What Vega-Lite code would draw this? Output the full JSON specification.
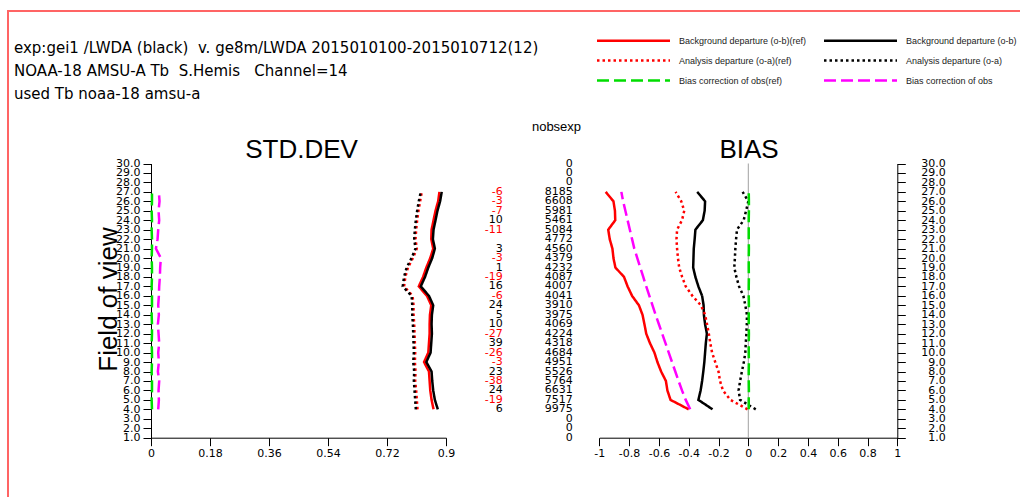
{
  "$schema": "https://vega.github.io/schema/vega-lite/v6.json",
  "width": 1014,
  "height": 490,
  "autosize": {"type": "none"},
  "padding": {"left": 8, "top": 11, "right": 0, "bottom": 0},
  "background": "white",
  "config": {
    "view": {"stroke": "#ff6464", "strokeWidth": 2},
    "axis": {"labelFont": "DejaVu Sans", "labelFontSize": 11, "labelColor": "#000", "domainColor": "#000", "tickColor": "#000", "domainWidth": 1, "tickWidth": 1, "grid": false, "titleFont": "Liberation Sans", "titleFontWeight": "normal", "titleColor": "#000", "labelOverlap": false, "labelFlush": false, "labelBound": false},
    "text": {"font": "DejaVu Sans", "fontSize": 11}
  },
  "title": {
    "text": ["exp:gei1 /LWDA (black)\u00a0 v. ge8m/LWDA 2015010100-2015010712(12)", "NOAA-18 AMSU-A Tb\u00a0 S.Hemis\u00a0\u00a0 Channel=14", "used Tb noaa-18 amsu-a"],
    "anchor": "start", "frame": "group", "orient": "top", "offset": 0, "dx": 6, "dy": 91, "baseline": "top",
    "font": "DejaVu Sans", "fontSize": 15, "fontWeight": "normal", "lineHeight": 23, "color": "#000"
  },
  "datasets": {
    "prof": [
      {"f":27,"s":"Background departure (o-b)(ref)","std":0.880,"bias":-0.957},
      {"f":26,"s":"Background departure (o-b)(ref)","std":0.876,"bias":-0.905},
      {"f":25,"s":"Background departure (o-b)(ref)","std":0.868,"bias":-0.895},
      {"f":24,"s":"Background departure (o-b)(ref)","std":0.862,"bias":-0.893},
      {"f":23,"s":"Background departure (o-b)(ref)","std":0.856,"bias":-0.940},
      {"f":22,"s":"Background departure (o-b)(ref)","std":0.855,"bias":-0.930},
      {"f":21,"s":"Background departure (o-b)(ref)","std":0.861,"bias":-0.912},
      {"f":20,"s":"Background departure (o-b)(ref)","std":0.852,"bias":-0.905},
      {"f":19,"s":"Background departure (o-b)(ref)","std":0.840,"bias":-0.892},
      {"f":18,"s":"Background departure (o-b)(ref)","std":0.830,"bias":-0.834},
      {"f":17,"s":"Background departure (o-b)(ref)","std":0.817,"bias":-0.810},
      {"f":16,"s":"Background departure (o-b)(ref)","std":0.842,"bias":-0.780},
      {"f":15,"s":"Background departure (o-b)(ref)","std":0.855,"bias":-0.734},
      {"f":14,"s":"Background departure (o-b)(ref)","std":0.851,"bias":-0.710},
      {"f":13,"s":"Background departure (o-b)(ref)","std":0.850,"bias":-0.697},
      {"f":12,"s":"Background departure (o-b)(ref)","std":0.850,"bias":-0.685},
      {"f":11,"s":"Background departure (o-b)(ref)","std":0.848,"bias":-0.660},
      {"f":10,"s":"Background departure (o-b)(ref)","std":0.846,"bias":-0.630},
      {"f":9,"s":"Background departure (o-b)(ref)","std":0.833,"bias":-0.610},
      {"f":8,"s":"Background departure (o-b)(ref)","std":0.848,"bias":-0.585},
      {"f":7,"s":"Background departure (o-b)(ref)","std":0.850,"bias":-0.553},
      {"f":6,"s":"Background departure (o-b)(ref)","std":0.852,"bias":-0.543},
      {"f":5,"s":"Background departure (o-b)(ref)","std":0.856,"bias":-0.522},
      {"f":4,"s":"Background departure (o-b)(ref)","std":0.862,"bias":-0.400},
      {"f":27,"s":"Background departure (o-b)","std":0.887,"bias":-0.343},
      {"f":26,"s":"Background departure (o-b)","std":0.882,"bias":-0.290},
      {"f":25,"s":"Background departure (o-b)","std":0.874,"bias":-0.293},
      {"f":24,"s":"Background departure (o-b)","std":0.868,"bias":-0.305},
      {"f":23,"s":"Background departure (o-b)","std":0.862,"bias":-0.355},
      {"f":22,"s":"Background departure (o-b)","std":0.860,"bias":-0.360},
      {"f":21,"s":"Background departure (o-b)","std":0.866,"bias":-0.366},
      {"f":20,"s":"Background departure (o-b)","std":0.858,"bias":-0.368},
      {"f":19,"s":"Background departure (o-b)","std":0.846,"bias":-0.370},
      {"f":18,"s":"Background departure (o-b)","std":0.836,"bias":-0.355},
      {"f":17,"s":"Background departure (o-b)","std":0.823,"bias":-0.335},
      {"f":16,"s":"Background departure (o-b)","std":0.848,"bias":-0.310},
      {"f":15,"s":"Background departure (o-b)","std":0.861,"bias":-0.300},
      {"f":14,"s":"Background departure (o-b)","std":0.857,"bias":-0.298},
      {"f":13,"s":"Background departure (o-b)","std":0.856,"bias":-0.290},
      {"f":12,"s":"Background departure (o-b)","std":0.857,"bias":-0.278},
      {"f":11,"s":"Background departure (o-b)","std":0.855,"bias":-0.285},
      {"f":10,"s":"Background departure (o-b)","std":0.853,"bias":-0.290},
      {"f":9,"s":"Background departure (o-b)","std":0.840,"bias":-0.295},
      {"f":8,"s":"Background departure (o-b)","std":0.856,"bias":-0.302},
      {"f":7,"s":"Background departure (o-b)","std":0.858,"bias":-0.310},
      {"f":6,"s":"Background departure (o-b)","std":0.861,"bias":-0.320},
      {"f":5,"s":"Background departure (o-b)","std":0.866,"bias":-0.335},
      {"f":4,"s":"Background departure (o-b)","std":0.875,"bias":-0.240},
      {"f":27,"s":"Analysis departure (o-a)(ref)","std":0.826,"bias":-0.488},
      {"f":26,"s":"Analysis departure (o-a)(ref)","std":0.821,"bias":-0.450},
      {"f":25,"s":"Analysis departure (o-a)(ref)","std":0.816,"bias":-0.430},
      {"f":24,"s":"Analysis departure (o-a)(ref)","std":0.812,"bias":-0.445},
      {"f":23,"s":"Analysis departure (o-a)(ref)","std":0.809,"bias":-0.478},
      {"f":22,"s":"Analysis departure (o-a)(ref)","std":0.807,"bias":-0.482},
      {"f":21,"s":"Analysis departure (o-a)(ref)","std":0.811,"bias":-0.478},
      {"f":20,"s":"Analysis departure (o-a)(ref)","std":0.799,"bias":-0.472},
      {"f":19,"s":"Analysis departure (o-a)(ref)","std":0.784,"bias":-0.464},
      {"f":18,"s":"Analysis departure (o-a)(ref)","std":0.776,"bias":-0.444},
      {"f":17,"s":"Analysis departure (o-a)(ref)","std":0.772,"bias":-0.420},
      {"f":16,"s":"Analysis departure (o-a)(ref)","std":0.798,"bias":-0.375},
      {"f":15,"s":"Analysis departure (o-a)(ref)","std":0.801,"bias":-0.318},
      {"f":14,"s":"Analysis departure (o-a)(ref)","std":0.801,"bias":-0.290},
      {"f":13,"s":"Analysis departure (o-a)(ref)","std":0.803,"bias":-0.277},
      {"f":12,"s":"Analysis departure (o-a)(ref)","std":0.804,"bias":-0.265},
      {"f":11,"s":"Analysis departure (o-a)(ref)","std":0.805,"bias":-0.255},
      {"f":10,"s":"Analysis departure (o-a)(ref)","std":0.806,"bias":-0.243},
      {"f":9,"s":"Analysis departure (o-a)(ref)","std":0.805,"bias":-0.222},
      {"f":8,"s":"Analysis departure (o-a)(ref)","std":0.807,"bias":-0.200},
      {"f":7,"s":"Analysis departure (o-a)(ref)","std":0.806,"bias":-0.190},
      {"f":6,"s":"Analysis departure (o-a)(ref)","std":0.809,"bias":-0.170},
      {"f":5,"s":"Analysis departure (o-a)(ref)","std":0.811,"bias":-0.120},
      {"f":4,"s":"Analysis departure (o-a)(ref)","std":0.813,"bias":-0.005},
      {"f":27,"s":"Analysis departure (o-a)","std":0.823,"bias":-0.038},
      {"f":26,"s":"Analysis departure (o-a)","std":0.817,"bias":0.000},
      {"f":25,"s":"Analysis departure (o-a)","std":0.812,"bias":-0.015},
      {"f":24,"s":"Analysis departure (o-a)","std":0.808,"bias":-0.031},
      {"f":23,"s":"Analysis departure (o-a)","std":0.805,"bias":-0.076},
      {"f":22,"s":"Analysis departure (o-a)","std":0.803,"bias":-0.082},
      {"f":21,"s":"Analysis departure (o-a)","std":0.807,"bias":-0.087},
      {"f":20,"s":"Analysis departure (o-a)","std":0.795,"bias":-0.090},
      {"f":19,"s":"Analysis departure (o-a)","std":0.780,"bias":-0.094},
      {"f":18,"s":"Analysis departure (o-a)","std":0.772,"bias":-0.080},
      {"f":17,"s":"Analysis departure (o-a)","std":0.768,"bias":-0.062},
      {"f":16,"s":"Analysis departure (o-a)","std":0.795,"bias":-0.033},
      {"f":15,"s":"Analysis departure (o-a)","std":0.797,"bias":-0.020},
      {"f":14,"s":"Analysis departure (o-a)","std":0.797,"bias":-0.009},
      {"f":13,"s":"Analysis departure (o-a)","std":0.799,"bias":-0.010},
      {"f":12,"s":"Analysis departure (o-a)","std":0.800,"bias":-0.013},
      {"f":11,"s":"Analysis departure (o-a)","std":0.801,"bias":-0.017},
      {"f":10,"s":"Analysis departure (o-a)","std":0.802,"bias":-0.020},
      {"f":9,"s":"Analysis departure (o-a)","std":0.800,"bias":-0.030},
      {"f":8,"s":"Analysis departure (o-a)","std":0.803,"bias":-0.043},
      {"f":7,"s":"Analysis departure (o-a)","std":0.802,"bias":-0.055},
      {"f":6,"s":"Analysis departure (o-a)","std":0.804,"bias":-0.065},
      {"f":5,"s":"Analysis departure (o-a)","std":0.806,"bias":-0.055},
      {"f":4,"s":"Analysis departure (o-a)","std":0.808,"bias":0.050},
      {"f":27,"s":"Bias correction of obs(ref)","std":0.003,"bias":0.003},
      {"f":26,"s":"Bias correction of obs(ref)","std":0.003,"bias":0.004},
      {"f":25,"s":"Bias correction of obs(ref)","std":0.002,"bias":0.004},
      {"f":24,"s":"Bias correction of obs(ref)","std":0.003,"bias":0.003},
      {"f":23,"s":"Bias correction of obs(ref)","std":0.002,"bias":0.003},
      {"f":22,"s":"Bias correction of obs(ref)","std":0.003,"bias":0.003},
      {"f":21,"s":"Bias correction of obs(ref)","std":0.003,"bias":0.004},
      {"f":20,"s":"Bias correction of obs(ref)","std":0.002,"bias":0.003},
      {"f":19,"s":"Bias correction of obs(ref)","std":0.003,"bias":0.003},
      {"f":18,"s":"Bias correction of obs(ref)","std":0.003,"bias":0.004},
      {"f":17,"s":"Bias correction of obs(ref)","std":0.002,"bias":0.003},
      {"f":16,"s":"Bias correction of obs(ref)","std":0.003,"bias":0.003},
      {"f":15,"s":"Bias correction of obs(ref)","std":0.003,"bias":0.004},
      {"f":14,"s":"Bias correction of obs(ref)","std":0.002,"bias":0.003},
      {"f":13,"s":"Bias correction of obs(ref)","std":0.003,"bias":0.003},
      {"f":12,"s":"Bias correction of obs(ref)","std":0.003,"bias":0.004},
      {"f":11,"s":"Bias correction of obs(ref)","std":0.002,"bias":0.003},
      {"f":10,"s":"Bias correction of obs(ref)","std":0.003,"bias":0.003},
      {"f":9,"s":"Bias correction of obs(ref)","std":0.003,"bias":0.004},
      {"f":8,"s":"Bias correction of obs(ref)","std":0.002,"bias":0.003},
      {"f":7,"s":"Bias correction of obs(ref)","std":0.003,"bias":0.003},
      {"f":6,"s":"Bias correction of obs(ref)","std":0.003,"bias":0.004},
      {"f":5,"s":"Bias correction of obs(ref)","std":0.002,"bias":0.003},
      {"f":4,"s":"Bias correction of obs(ref)","std":0.003,"bias":0.003},
      {"f":27,"s":"Bias correction of obs","std":0.024,"bias":-0.852},
      {"f":26,"s":"Bias correction of obs","std":0.026,"bias":-0.840},
      {"f":25,"s":"Bias correction of obs","std":0.023,"bias":-0.825},
      {"f":24,"s":"Bias correction of obs","std":0.025,"bias":-0.810},
      {"f":23,"s":"Bias correction of obs","std":0.022,"bias":-0.795},
      {"f":22,"s":"Bias correction of obs","std":0.020,"bias":-0.780},
      {"f":21,"s":"Bias correction of obs","std":0.015,"bias":-0.765},
      {"f":20,"s":"Bias correction of obs","std":0.030,"bias":-0.745},
      {"f":19,"s":"Bias correction of obs","std":0.028,"bias":-0.725},
      {"f":18,"s":"Bias correction of obs","std":0.027,"bias":-0.705},
      {"f":17,"s":"Bias correction of obs","std":0.025,"bias":-0.685},
      {"f":16,"s":"Bias correction of obs","std":0.024,"bias":-0.664},
      {"f":15,"s":"Bias correction of obs","std":0.022,"bias":-0.643},
      {"f":14,"s":"Bias correction of obs","std":0.024,"bias":-0.622},
      {"f":13,"s":"Bias correction of obs","std":0.021,"bias":-0.600},
      {"f":12,"s":"Bias correction of obs","std":0.023,"bias":-0.578},
      {"f":11,"s":"Bias correction of obs","std":0.025,"bias":-0.556},
      {"f":10,"s":"Bias correction of obs","std":0.022,"bias":-0.534},
      {"f":9,"s":"Bias correction of obs","std":0.024,"bias":-0.512},
      {"f":8,"s":"Bias correction of obs","std":0.021,"bias":-0.490},
      {"f":7,"s":"Bias correction of obs","std":0.025,"bias":-0.468},
      {"f":6,"s":"Bias correction of obs","std":0.023,"bias":-0.445},
      {"f":5,"s":"Bias correction of obs","std":0.024,"bias":-0.420},
      {"f":4,"s":"Bias correction of obs","std":0.022,"bias":-0.390}
    ],
    "mid": [
      {"f":30,"n":0},{"f":29,"n":0},{"f":28,"n":0},
      {"f":27,"n":8185,"d":-6},{"f":26,"n":6608,"d":-3},{"f":25,"n":5981,"d":-7},{"f":24,"n":5461,"d":10},
      {"f":23,"n":5084,"d":-11},{"f":22,"n":4772},{"f":21,"n":4560,"d":3},{"f":20,"n":4379,"d":-3},
      {"f":19,"n":4232,"d":1},{"f":18,"n":4087,"d":-19},{"f":17,"n":4007,"d":16},{"f":16,"n":4041,"d":-6},
      {"f":15,"n":3910,"d":24},{"f":14,"n":3975,"d":5},{"f":13,"n":4069,"d":10},{"f":12,"n":4224,"d":-27},
      {"f":11,"n":4318,"d":39},{"f":10,"n":4684,"d":-26},{"f":9,"n":4951,"d":-3},{"f":8,"n":5526,"d":23},
      {"f":7,"n":5764,"d":-38},{"f":6,"n":6631,"d":24},{"f":5,"n":7517,"d":-19},{"f":4,"n":9975,"d":6},
      {"f":3,"n":0},{"f":2,"n":0},{"f":1,"n":0}
    ]
  },
  "layer": [
    {
      "data": {"name": "prof"},
      "mark": {"type": "line", "strokeWidth": 2.5},
      "encoding": {
        "x": {"field": "std", "type": "quantitative",
          "scale": {"domain": [0, 0.9], "range": [143, 438], "nice": false, "zero": false},
          "axis": {"orient": "bottom", "offset": -63.3, "values": [0, 0.18, 0.36, 0.54, 0.72, 0.9], "format": ".2~f", "tickSize": 8, "labelPadding": 2,
            "title": "STD.DEV", "titleFontSize": 26, "titleX": 293, "titleY": -280.4, "titleBaseline": "alphabetic", "titleAlign": "center", "titleAngle": 0}},
        "y": {"field": "f", "type": "quantitative",
          "scale": {"domain": [1, 30], "range": [426.7, 152.5], "nice": false, "zero": false},
          "axis": {"orient": "left", "offset": -143, "values": [1,2,3,4,5,6,7,8,9,10,11,12,13,14,15,16,17,18,19,20,21,22,23,24,25,26,27,28,29,30], "format": ".1f", "tickSize": 8, "labelPadding": 3,
            "title": "Field of view", "titleFontSize": 26, "titleX": -30, "titleY": 288, "titleAngle": -90, "titleBaseline": "bottom", "titleAlign": "center"}},
        "color": {"field": "s", "type": "nominal",
          "scale": {"domain": ["Background departure (o-b)(ref)", "Analysis departure (o-a)(ref)", "Bias correction of obs(ref)", "Background departure (o-b)", "Analysis departure (o-a)", "Bias correction of obs"],
                    "range": ["#ff0000", "#ff0000", "#00dd00", "#000000", "#000000", "#ff00ff"]},
          "legend": {"orient": "none", "legendX": 621, "legendY": 25, "columns": 2, "title": null, "symbolType": "M-18.25,0H18.25", "symbolSize": 16, "symbolStrokeWidth": 2.5, "labelFont": "Liberation Sans", "labelFontSize": 9, "labelColor": "#222", "labelOffset": 41, "columnPadding": 12, "rowPadding": 9, "labelLimit": 400}},
        "strokeDash": {"field": "s", "type": "nominal",
          "scale": {"domain": ["Background departure (o-b)(ref)", "Analysis departure (o-a)(ref)", "Bias correction of obs(ref)", "Background departure (o-b)", "Analysis departure (o-a)", "Bias correction of obs"],
                    "range": [[1, 0], [2.5, 3], [12, 5], [1, 0], [2.5, 3], [12, 5]]},
          "legend": {"orient": "none", "legendX": 621, "legendY": 25, "columns": 2, "title": null, "symbolType": "M-18.25,0H18.25", "symbolSize": 16, "symbolStrokeWidth": 2.5, "labelFont": "Liberation Sans", "labelFontSize": 9, "labelColor": "#222", "labelOffset": 41, "columnPadding": 12, "rowPadding": 9, "labelLimit": 400}},
        "order": {"field": "f", "type": "quantitative"}
      }
    },
    {
      "data": {"name": "mid"},
      "layer": [
        {
          "mark": {"type": "text", "align": "right", "baseline": "middle", "font": "DejaVu Sans", "fontSize": 11},
          "encoding": {
            "x": {"datum": "nobs", "type": "nominal",
              "scale": {"type": "point", "domain": ["diff", "nobs"], "range": [494.7, 564.7], "padding": 0},
              "axis": {"orient": "top", "domain": false, "ticks": false, "labels": false, "title": "nobsexp", "titleFontSize": 13, "titleX": 548, "titleY": 119.5, "titleBaseline": "alphabetic", "titleAlign": "center", "titleAngle": 0}},
            "y": {"field": "f", "type": "quantitative", "scale": {"domain": [1, 30], "range": [426.7, 152.5], "nice": false, "zero": false}, "axis": null},
            "text": {"field": "n", "type": "nominal"}
          }
        },
        {
          "transform": [{"filter": "isValid(datum.d)"}],
          "mark": {"type": "text", "align": "right", "baseline": "middle", "font": "DejaVu Sans", "fontSize": 11},
          "encoding": {
            "x": {"datum": "diff", "type": "nominal",
              "axis": {"orient": "top", "domain": false, "ticks": false, "labels": false, "title": "nobsexp", "titleFontSize": 13, "titleX": 548, "titleY": 119.5, "titleBaseline": "alphabetic", "titleAlign": "center", "titleAngle": 0}},
            "y": {"field": "f", "type": "quantitative", "axis": null},
            "text": {"field": "d", "type": "nominal"},
            "color": {"condition": {"test": "datum.d < 0", "value": "#ff0000"}, "value": "#000000"}
          }
        }
      ]
    },
    {
      "layer": [
        {
          "data": {"values": [{"v": 0}]},
          "mark": {"type": "rule", "color": "#a0a0a0", "strokeWidth": 1},
          "encoding": {
            "x": {"datum": 0, "type": "quantitative",
              "scale": {"domain": [-1, 1], "range": [591.3, 889.3], "nice": false, "zero": false},
              "axis": {"orient": "bottom", "offset": -63.3, "values": [-1, -0.8, -0.6, -0.4, -0.2, 0, 0.2, 0.4, 0.6, 0.8, 1], "format": ".1~f", "labelExpr": "replace(datum.label, '\u2212', '-')", "tickSize": 8, "labelPadding": 2,
                "title": "BIAS", "titleFontSize": 26, "titleX": 740.5, "titleY": -280.4, "titleBaseline": "alphabetic", "titleAlign": "center", "titleAngle": 0}},
            "y": {"datum": 1, "type": "quantitative",
              "scale": {"domain": [1, 30], "range": [426.7, 152.5], "nice": false, "zero": false},
              "axis": {"orient": "right", "offset": -124.7, "values": [1,2,3,4,5,6,7,8,9,10,11,12,13,14,15,16,17,18,19,20,21,22,23,24,25,26,27,28,29,30], "format": ".1f", "tickSize": 8, "labelPadding": 40, "labelAlign": "right", "title": null}},
            "y2": {"datum": 30}
          }
        },
        {
          "data": {"name": "prof"},
          "mark": {"type": "line", "strokeWidth": 2.5},
          "encoding": {
            "x": {"field": "bias", "type": "quantitative",
              "scale": {"domain": [-1, 1], "range": [591.3, 889.3], "nice": false, "zero": false},
              "axis": {"orient": "bottom", "offset": -63.3, "values": [-1, -0.8, -0.6, -0.4, -0.2, 0, 0.2, 0.4, 0.6, 0.8, 1], "format": ".1~f", "labelExpr": "replace(datum.label, '\u2212', '-')", "tickSize": 8, "labelPadding": 2,
                "title": "BIAS", "titleFontSize": 26, "titleX": 740.5, "titleY": -280.4, "titleBaseline": "alphabetic", "titleAlign": "center", "titleAngle": 0}},
            "y": {"field": "f", "type": "quantitative",
              "scale": {"domain": [1, 30], "range": [426.7, 152.5], "nice": false, "zero": false},
              "axis": {"orient": "right", "offset": -124.7, "values": [1,2,3,4,5,6,7,8,9,10,11,12,13,14,15,16,17,18,19,20,21,22,23,24,25,26,27,28,29,30], "format": ".1f", "tickSize": 8, "labelPadding": 40, "labelAlign": "right", "title": null}},
            "color": {"field": "s", "type": "nominal"},
            "strokeDash": {"field": "s", "type": "nominal"},
            "order": {"field": "f", "type": "quantitative"}
          }
        }
      ]
    }
  ],
  "resolve": {"scale": {"x": "independent", "y": "independent"}, "axis": {"x": "independent", "y": "independent"}}
}
